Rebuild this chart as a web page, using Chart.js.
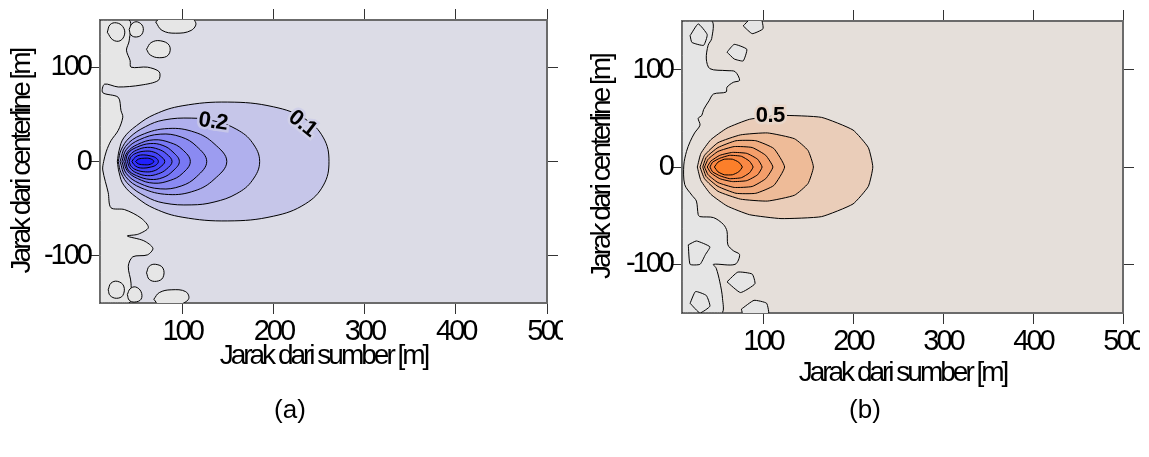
<!DOCTYPE html>
<html>
<head>
<meta charset="utf-8">
<script src="https://cdn.jsdelivr.net/npm/chart.js@4.4.1/dist/chart.umd.min.js"></script>
<style>
  body { margin: 0; background: #fff; width: 1149px; height: 457px; overflow: hidden; position: relative; font-family: "Liberation Sans", Arial, sans-serif; }
  .wrap { position: absolute; top: 0; overflow: hidden; }
  #wrapA { left: 0; width: 563px; height: 400px; }
  #wrapB { left: 580px; width: 560px; height: 410px; }
  .cap { position: absolute; top: 394px; font-size: 26px; width: 60px; text-align: center; line-height: 30px; }
</style>
</head>
<body>
<div class="wrap" id="wrapA"><canvas id="chartA" width="580" height="400"></canvas></div>
<div class="wrap" id="wrapB"><canvas id="chartB" width="580" height="410"></canvas></div>
<div class="cap" style="left:260px">(a)</div>
<div class="cap" style="left:835px">(b)</div>
<script>
// axes
const xTicks = [100, 200, 300, 400, 500];
const yTicks = [-100, 0, 100];
const xRange = [10, 500];
const yRange = [-150, 150];

// panel (a): contour outlines, upper half [x, y] from left tip to right tip (outer -> inner)
const contoursA = [
  [[29,0],[31,12],[36,25],[50,38],[70,50],[100,59],[150,63],[200,58],[235,45],[255,25],[261,0]],
  [[30,0],[33,12],[42,25],[60,37],[80,44],[110,46],[135,43],[160,34],[177,20],[185,0]],
  [[32,0],[38,16],[55,28],[85,35],[114,31],[135,19],[149,0]],
  [[34,0],[39,13],[53,23],[76,29],[99,26],[116,16],[127,0]],
  [[36,0],[40,10],[51,18],[69,23],[87,20],[100,13],[109,0]],
  [[38,0],[41,9],[50,15],[65,19],[79,17],[90,10],[97,0]],
  [[40,0],[43,7],[50,12],[62,15],[74,13],[83,8],[89,0]],
  [[42,0],[44,5],[50,9],[60,11],[69,10],[76,6],[81,0]],
  [[45,0],[47,3],[51,6],[58,7],[65,6],[71,4],[74,0]],
  [[49,0],[52,2.5],[59,3.5],[65,3],[69,0]]
];
// grey low-value strip along the source side, right boundary top -> bottom
const stripA = [[42,150],[42,128],[39,118],[43,107],[44,100],[62,100],[75,95],[74,86],[55,81],[30,79],[15,82],[13,73],[30,68],[33,54],[35,47],[30,33],[22,22],[17,11],[14,0],[13,-9],[19,-33],[22,-49],[37,-51],[55,-60],[63,-70],[52,-77],[40,-79],[58,-84],[68,-92],[62,-99],[46,-101],[41,-111],[44,-129],[42,-150]];
const blobsA = [
  [[18,137],[21,145],[28,147],[35,143],[37,135],[32,128],[24,129]],
  [[42,140],[45,146],[51,148],[57,143],[56,135],[50,132],[44,134]],
  [[61,119],[66,126],[76,128],[86,123],[85,113],[75,110],[65,113]],
  [[71,148],[78,139],[93,136],[110,139],[115,147],[105,154],[80,154]],
  [[61,-118],[64,-111],[71,-109],[79,-113],[79,-123],[72,-127],[64,-125]],
  [[19,-136],[22,-129],[29,-127],[36,-132],[35,-142],[28,-145],[21,-142]],
  [[40,-141],[43,-135],[49,-133],[55,-138],[55,-146],[48,-149],[42,-147]],
  [[69,-146],[75,-139],[88,-136],[104,-138],[107,-146],[95,-152],[75,-152]]
];
const labelsA = [
  { text: "0.2", x: 134, y: 42 },
  { text: "0.1", x: 232, y: 40 }
];

// panel (b)
const contoursB = [
  [[27,0],[31,14],[42,28],[60,40],[85,49],[120,53],[165,51],[200,38],[217,20],[222,0]],
  [[30,0],[35,12],[50,25],[75,33],[105,35],[135,29],[150,17],[156,0]],
  [[33,0],[37,10],[50,20],[70,27],[92,27],[112,19],[124,0]],
  [[35,0],[39,8],[50,16],[68,21],[88,20],[103,12],[111,0]],
  [[38,0],[42,6],[52,12],[66,15],[82,14],[94,8],[99,0]],
  [[41,0],[44,5],[52,9],[63,12],[76,11],[85,6],[89,0]],
  [[46,0],[50,5],[57,8],[66,8],[73,5],[77,0]]
];
const stripB = [[43,150],[43,132],[39,125],[37,111],[41,101],[60,99],[69,98],[74,89],[67,87],[60,82],[59,77],[45,75],[40,68],[34,59],[32,53],[28,50],[30,43],[24,35],[19,26],[15,16],[12,2],[13,-18],[21,-29],[26,-35],[28,-49],[30,-51],[45,-52],[56,-59],[60,-66],[61,-80],[67,-86],[74,-90],[69,-100],[45,-100],[48,-104],[52,-118],[55,-135],[54,-150]];
const blobsB = [
  [[19,135],[28,147],[38,136],[34,125],[21,128]],
  [[60,118],[68,126],[82,121],[78,109],[68,111]],
  [[78,145],[86,152],[98,152],[100,142],[88,137]],
  [[60,-118],[72,-108],[88,-110],[91,-120],[75,-129]],
  [[19,-140],[25,-128],[37,-132],[41,-143],[30,-150]],
  [[76,-146],[90,-137],[104,-140],[106,-152],[78,-152]],
  [[17,-80],[26,-76],[41,-82],[36,-90],[30,-100],[19,-100]]
];
const labelsB = [
  { text: "0.5", x: 108, y: 52 }
];

const fillA = ["#c6c6e9", "#b0b0ed", "#9c9cf0", "#8a8af2", "#7878f4", "#6666f6", "#5555f8", "#4343fa", "#3232fc", "#2020ff"];
const fillB = ["#eacdb9", "#eebb98", "#f1ac80", "#f49e6a", "#f79257", "#f98844", "#fc7f2a"];

const SQUEEZE = "-3px";
Chart.defaults.color = "#000";
Chart.defaults.font.family = '"Liberation Sans", Arial, sans-serif';

function toPts(list) {
  return list.map(p => ({ x: p[0], y: p[1] }));
}

// mirror upper half to close the outline
function closedContour(upper) {
  const top = toPts(upper);
  const bottom = upper.slice().reverse().slice(1).map(p => ({ x: p[0], y: -p[1] }));
  return top.concat(bottom);
}

function shape(points, color, order, tension) {
  return {
    data: points,
    fill: "shape",
    backgroundColor: color,
    borderColor: "#000",
    borderWidth: 1,
    pointRadius: 0,
    tension: tension,
    order: order
  };
}

function buildSets(contours, strip, blobs, fills, grey, tension) {
  const sets = [];
  contours.forEach((c, i) => {
    sets.push(shape(closedContour(c), fills[i], contours.length - i, tension));
  });
  blobs.forEach(b => {
    sets.push(shape(toPts(b.concat([b[0]])), grey, 50, tension));
  });
  const stripPts = [[xRange[0], yRange[1]]].concat(strip, [[xRange[0], yRange[0]], [xRange[0], yRange[1]]]);
  sets.push(shape(toPts(stripPts), grey, 60, 0.3));
  return sets;
}

const plotBg = {
  id: "plotBg",
  beforeUpdate(chart) { chart.ctx.letterSpacing = SQUEEZE; },
  beforeDraw(chart) {
    const { ctx, chartArea: a } = chart;
    ctx.letterSpacing = SQUEEZE;
    ctx.save();
    ctx.fillStyle = chart.options.plugins.plotBg.color;
    ctx.fillRect(a.left, a.top, a.right - a.left, a.bottom - a.top);
    ctx.restore();
  }
};

const contourLabels = {
  id: "contourLabels",
  afterDatasetsDraw(chart) {
    const opts = chart.options.plugins.contourLabels;
    const { ctx, scales } = chart;
    ctx.save();
    ctx.letterSpacing = "-0.5px";
    ctx.font = "bold 22px 'Liberation Sans', Arial, sans-serif";
    ctx.textAlign = "center";
    ctx.textBaseline = "middle";
    opts.items.forEach((l, i) => {
      const px = scales.x.getPixelForValue(l.x);
      const py = scales.y.getPixelForValue(l.y);
      ctx.save();
      ctx.translate(px, py);
      ctx.rotate(opts.angles[i] * Math.PI / 180);
      ctx.lineWidth = 5;
      ctx.strokeStyle = opts.halo[i];
      ctx.strokeText(l.text, 0, 0);
      ctx.fillStyle = "#000";
      ctx.fillText(l.text, 0, 0);
      ctx.restore();
    });
    ctx.restore();
  }
};

function makeChart(id, sets, lay) {
  const fixTicks = list => s => { s.ticks = list.map(v => ({ value: v })); };
  const frame = { display: true, color: "#6b6b6b", width: 2 };
  const grid = { drawOnChartArea: false, drawTicks: true, tickLength: 11, color: "#333", lineWidth: 1 };
  return new Chart(document.getElementById(id), {
    type: "line",
    data: { datasets: sets },
    options: {
      responsive: false,
      animation: false,
      layout: { padding: 0 },
      plugins: {
        legend: { display: false },
        tooltip: { enabled: false },
        plotBg: { color: lay.bg },
        contourLabels: lay.labels
      },
      scales: {
        x: {
          type: "linear", position: "bottom", min: xRange[0], max: xRange[1],
          afterBuildTicks: fixTicks(xTicks),
          afterFit: s => { s.height = lay.xH; },
          border: frame, grid: grid,
          ticks: { font: { size: 29 }, padding: 1, maxRotation: 0, autoSkip: false },
          title: { display: true, text: "Jarak dari sumber [m]", font: { size: 28 }, padding: { top: 0, bottom: lay.titlePad } }
        },
        x2: {
          type: "linear", position: "top", min: xRange[0], max: xRange[1],
          afterBuildTicks: fixTicks(xTicks),
          afterFit: s => { s.height = lay.x2H; },
          border: frame, grid: grid, ticks: { display: false }
        },
        y: {
          type: "linear", position: "left", min: yRange[0], max: yRange[1],
          afterBuildTicks: fixTicks(yTicks),
          afterFit: s => { s.width = lay.yW; },
          border: frame, grid: Object.assign({}, grid, { tickLength: 10 }),
          ticks: { font: { size: 29 }, padding: 0 },
          title: { display: true, text: "Jarak dari centerline [m]", font: { size: 28 }, padding: { top: 5, bottom: 0 } }
        },
        y2: {
          type: "linear", position: "right", min: yRange[0], max: yRange[1],
          afterBuildTicks: fixTicks(yTicks),
          afterFit: s => { s.width = lay.y2W; },
          border: frame, grid: grid, ticks: { display: false }
        }
      }
    },
    plugins: [plotBg, contourLabels]
  });
}

makeChart("chartA", buildSets(contoursA, stripA, blobsA, fillA, "#e6e6e6", 0.4), {
  bg: "#dcdce6", xH: 97, x2H: 20, yW: 100, y2W: 33, titlePad: 27,
  labels: { items: labelsA, angles: [8, 38], halo: ["#c6c6e9", "#d0d0e8"] }
});
makeChart("chartB", buildSets(contoursB, stripB, blobsB, fillB, "#e5e5e5", 0.15), {
  bg: "#e5dfda", xH: 97, x2H: 21, yW: 102, y2W: 37, titlePad: 20,
  labels: { items: labelsB, angles: [0], halo: ["#e8d6c9"] }
});
</script>
</body>
</html>
